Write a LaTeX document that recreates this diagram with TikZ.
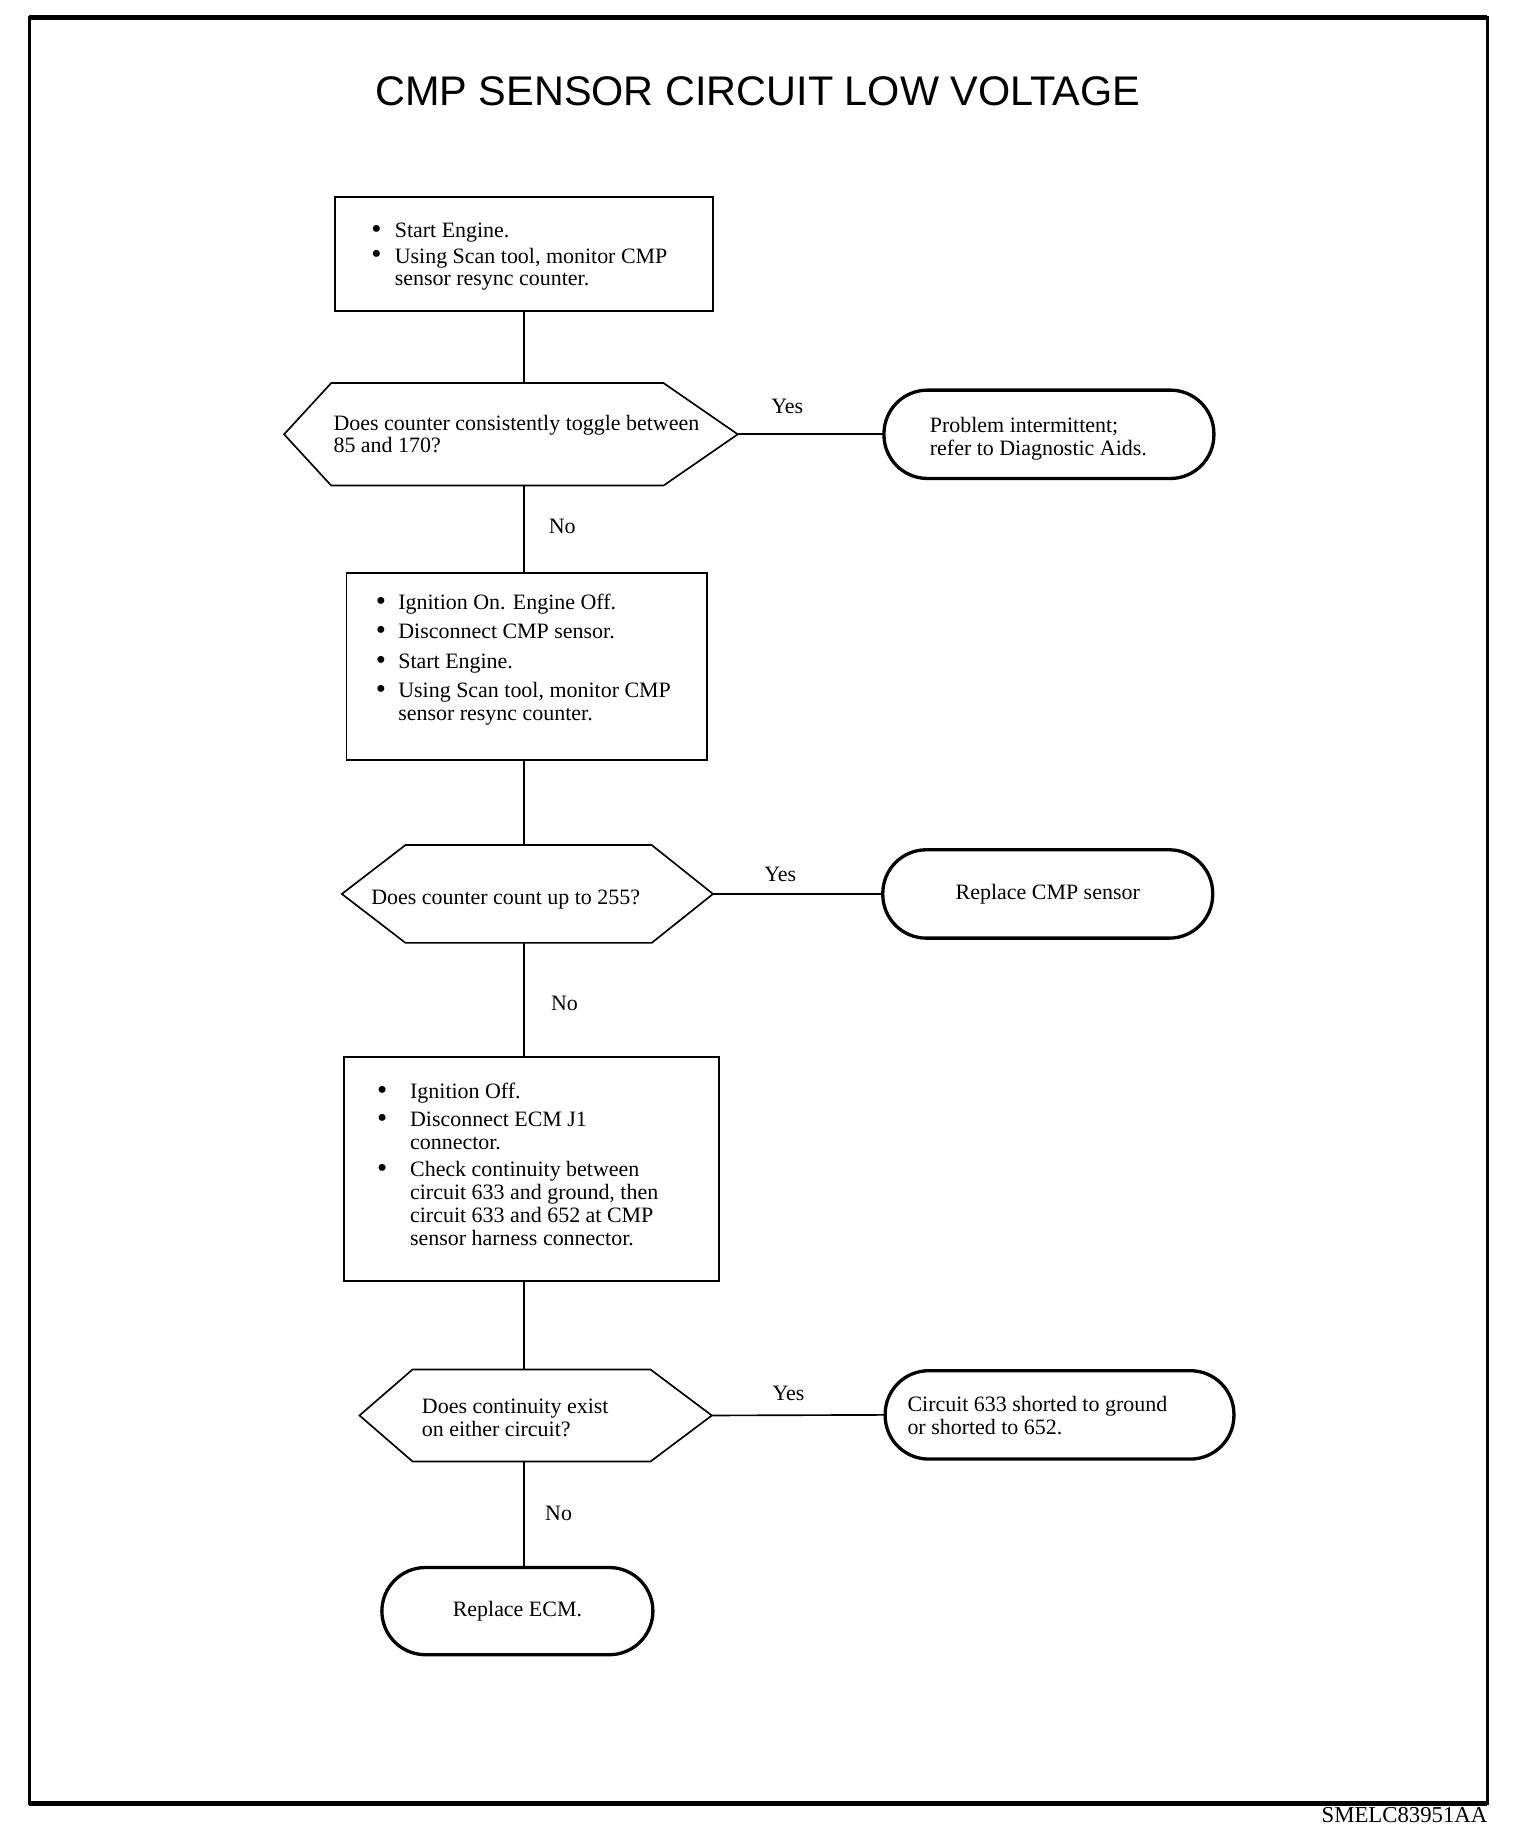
\documentclass[tikz,border=0pt]{standalone}
\usepackage{fontspec}
\setmainfont{Liberation Serif}
\newfontfamily\titlefont{Liberation Sans}
\newcommand{\fcbul}[1]{\makebox[#1][l]{\raisebox{-0.4pt}{\fontsize{14}{11}\selectfont\textbullet}}}
\newcommand{\fcind}[1]{\hspace*{#1}}
\begin{document}
\begin{tikzpicture}[x=0.02cm,y=-0.02cm,
  every node/.style={inner sep=0pt, outer sep=0pt},
  txt/.style={align=left, font=\fontsize{10.6}{11}\selectfont, anchor=north west},
  lbl/.style={font=\fontsize{10.6}{11}\selectfont},
  stepbox/.style={draw, line width=0.8pt, rectangle},
  termbox/.style={draw, line width=1.6pt, rectangle, rounded corners=0.74cm, minimum height=1.5cm, font=\fontsize{10.6}{11}\selectfont},
  hexbox/.style={rectangle},
  hexline/.style={line width=0.8pt, line join=miter},
  conn/.style={line width=0.8pt}
]
\useasboundingbox (0,0) rectangle (1290,1568);
% frame
\draw[line width=1.6pt] (25,15) rectangle (1262,1530);
\draw[line width=2.4pt] (25,15) -- (1262,15);
\draw[line width=2.4pt] (25,1530) -- (1262,1530);

% title
\node[font=\titlefont\fontsize{20}{24}\selectfont] (title) at (643,77) {CMP SENSOR CIRCUIT LOW VOLTAGE};

% spine
\coordinate (spine) at (444.5,0);

% box 1
\node[stepbox, minimum width=6.42cm, minimum height=1.94cm] (b1) at (444.5,215.5) {};
\node[txt] (t1) at (315,189) {\fcbul{0.4cm}Start Engine.\\[1.5pt]
\fcbul{0.4cm}Using Scan tool, monitor CMP\\
\fcind{0.4cm}sensor resync counter.};

% decision 1
\node[hexbox, minimum width=7.7cm, minimum height=1.74cm] (d1) at (433.5,368.5) {};
\draw[hexline] (d1.west) -- ([xshift=0.8cm]d1.north west) -- ([xshift=-1.26cm]d1.north east) -- (d1.east) -- ([xshift=-1.26cm]d1.south east) -- ([xshift=0.8cm]d1.south west) -- cycle;
\node[txt] (td1) at (283,352) {Does counter consistently toggle between\\85 and 170?};

% terminal 1
\node[termbox, minimum width=5.6cm] (e1) at (890,368.5) {};
\node[txt] (te1) at (789,354) {Problem intermittent;\\refer to Diagnostic Aids.};

% box 2
\node[stepbox, minimum width=6.12cm, minimum height=3.18cm] (b2) at (447,565.5) {};
\node[txt] (t2) at (319,504) {\fcbul{0.38cm}Ignition On. Engine Off.\\[3.2pt]
\fcbul{0.38cm}Disconnect CMP sensor.\\[3.2pt]
\fcbul{0.38cm}Start Engine.\\[3.2pt]
\fcbul{0.38cm}Using Scan tool, monitor CMP\\
\fcind{0.38cm}sensor resync counter.};

% decision 2
\node[hexbox, minimum width=6.3cm, minimum height=1.66cm] (d2) at (447.5,758.5) {};
\draw[hexline] (d2.west) -- ([xshift=1.08cm]d2.north west) -- ([xshift=-1.04cm]d2.north east) -- (d2.east) -- ([xshift=-1.04cm]d2.south east) -- ([xshift=1.08cm]d2.south west) -- cycle;
\node[txt] (td2) at (315,755) {Does counter count up to 255?};

% terminal 2
\node[termbox, minimum width=5.6cm] (e2) at (889,758.5) {Replace CMP sensor};

% box 3
\node[stepbox, minimum width=6.36cm, minimum height=3.8cm] (b3) at (451,992) {};
\node[txt] (t3) at (320,919) {\fcbul{0.56cm}Ignition Off.\\[2.6pt]
\fcbul{0.56cm}Disconnect ECM J1\\
\fcind{0.56cm}connector.\\[2.2pt]
\fcbul{0.56cm}Check continuity between\\
\fcind{0.56cm}circuit 633 and ground, then\\
\fcind{0.56cm}circuit 633 and 652 at CMP\\
\fcind{0.56cm}sensor harness connector.};

% decision 3
\node[hexbox, minimum width=5.98cm, minimum height=1.56cm] (d3) at (454.5,1201) {};
\draw[hexline] (d3.west) -- ([xshift=0.9cm]d3.north west) -- ([xshift=-1.04cm]d3.north east) -- (d3.east) -- ([xshift=-1.04cm]d3.south east) -- ([xshift=0.9cm]d3.south west) -- cycle;
\node[txt] (td3) at (358,1187) {Does continuity exist\\on either circuit?};

% terminal 3
\node[termbox, minimum width=5.92cm] (e3) at (899,1200.5) {};
\node[txt] (te3) at (770,1185) {Circuit 633 shorted to ground\\or shorted to 652.};

% terminal 4
\node[termbox, minimum width=4.6cm, minimum height=1.48cm] (e4) at (439,1367) {Replace ECM.};

% connectors
\draw[conn] (spine |- b1.south) -- (spine |- d1.north);
\draw[conn] (spine |- d1.south) -- (spine |- b2.north);
\draw[conn] (spine |- b2.south) -- (spine |- d2.north);
\draw[conn] (spine |- d2.south) -- (spine |- b3.north);
\draw[conn] (spine |- b3.south) -- (spine |- d3.north);
\draw[conn] (spine |- d3.south) -- (spine |- e4.north);
\draw[conn] (d1.east) -- (e1.west);
\draw[conn] (d2.east) -- (e2.west);
\draw[conn] (d3.east) -- (e3.west);

% labels
\node[lbl] (y1) at (668,345) {Yes};
\node[lbl] (n1) at (477,447) {No};
\node[lbl] (y2) at (662,742) {Yes};
\node[lbl] (n2) at (479,851) {No};
\node[lbl] (y3) at (669,1182) {Yes};
\node[lbl] (n3) at (474,1284) {No};

% figure id
\node[font=\fontsize{11}{13}\selectfont, anchor=base east] (fig) at (1262,1546) {SMELC83951AA};
\end{tikzpicture}
\end{document}
